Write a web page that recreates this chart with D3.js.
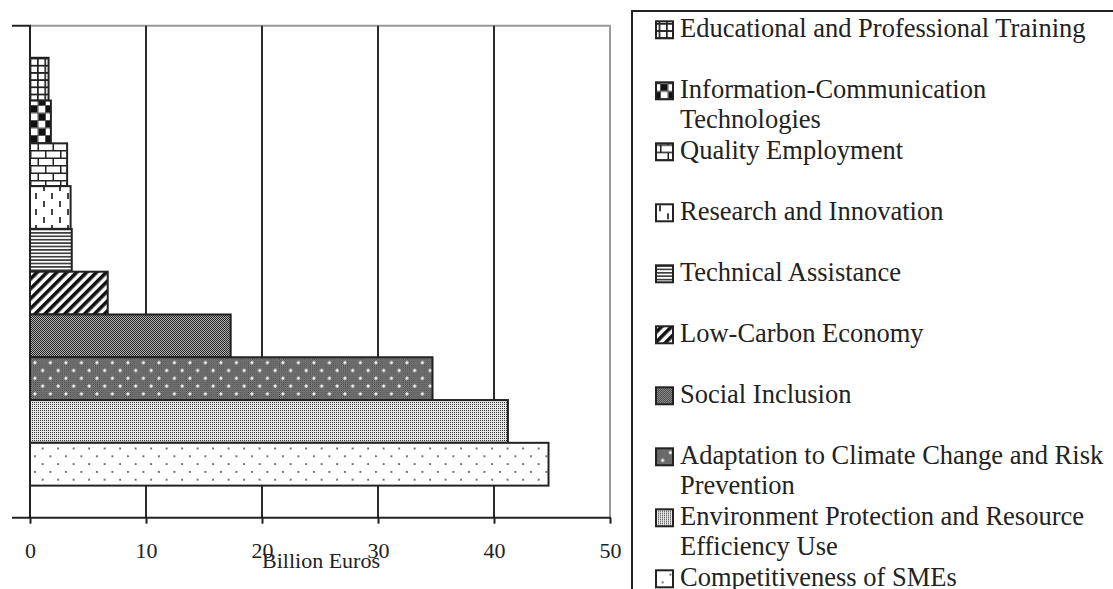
<!DOCTYPE html>
<html>
<head>
<meta charset="utf-8">
<script src="https://cdn.jsdelivr.net/npm/d3@7"></script>
<style>
  body { margin: 0; background: #fff; }
  svg { display: block; font-family: "Liberation Serif", "Times New Roman", serif; }
</style>
</head>
<body>
<div id="chart"></div>
<script>
// data (billion euros), top bar first
const categories = [
    "Educational and Professional Training",
    "Information-Communication Technologies",
    "Quality Employment",
    "Research and Innovation",
    "Technical Assistance",
    "Low-Carbon Economy",
    "Social Inclusion",
    "Adaptation to Climate Change and Risk Prevention",
    "Environment Protection and Resource Efficiency Use",
    "Competitiveness of SMEs"
];
const values = [1.6, 1.8, 3.2, 3.5, 3.6, 6.7, 17.3, 34.7, 41.2, 44.7];
const xTicks = [0, 10, 20, 30, 40, 50];
const xTitle = "Billion Euros";

// fill pattern used for each series, same order as categories
const fillIds = ["p-grid", "p-check", "p-brick", "p-dash", "p-hline", "p-diag", "p-fine", "p-dotdark", "p-light", "p-dots"];

const W = 1113, H = 589;
const plot = { left: 30, right: 610, top: 25.7, bottom: 517.7 };
const ink = "#222";

const svg = d3.select("#chart")
    .append("svg")
    .attr("width", W)
    .attr("height", H);

svg.append("rect").attr("width", W).attr("height", H).attr("fill", "#fff");

// ---- patterns ----
const defs = svg.append("defs");
const pat = (id, w, h) => defs.append("pattern")
    .attr("id", id)
    .attr("patternUnits", "userSpaceOnUse")
    .attr("width", w)
    .attr("height", h);

let p = pat("p-grid", 7.4, 7.2);
p.append("rect").attr("width", 7.4).attr("height", 7.2).attr("fill", "#fff");
p.append("path").attr("d", "M0.8,0V7.2M0,0.8H7.4").attr("stroke", ink).attr("stroke-width", 1.8);

p = pat("p-check", 15, 15);
p.append("rect").attr("width", 15).attr("height", 15).attr("fill", "#fff");
p.append("path").attr("d", "M0.5,0V15M8,0V15M0,0.5H15M0,8H15").attr("stroke", "#555").attr("stroke-width", 1);
p.append("rect").attr("x", 1).attr("y", 1).attr("width", 6.5).attr("height", 6.5).attr("fill", "#111");
p.append("rect").attr("x", 8.5).attr("y", 8.5).attr("width", 6.5).attr("height", 6.5).attr("fill", "#111");

p = pat("p-brick", 15, 15);
p.append("rect").attr("width", 15).attr("height", 15).attr("fill", "#fff");
p.append("path").attr("d", "M0,0.75H15M0,8.25H15M0.75,0V7.5M8.25,7.5V15").attr("stroke", ink).attr("stroke-width", 1.5);

p = pat("p-dash", 16, 16);
p.append("rect").attr("width", 16).attr("height", 16).attr("fill", "#fff");
p.append("path").attr("d", "M4,1V7M12,9V15").attr("stroke", ink).attr("stroke-width", 1.7);

p = pat("p-hline", 4, 3.4);
p.append("rect").attr("width", 4).attr("height", 3.4).attr("fill", "#fff");
p.append("path").attr("d", "M0,1.7H4").attr("stroke", "#333").attr("stroke-width", 1.6);

p = pat("p-diag", 7, 7).attr("patternTransform", "rotate(45)");
p.append("rect").attr("width", 7).attr("height", 7).attr("fill", "#fff");
p.append("rect").attr("width", 3.6).attr("height", 7).attr("fill", "#111");

p = pat("p-fine", 2, 2);
p.append("rect").attr("width", 2).attr("height", 2).attr("fill", "#b4b4b4");
p.append("rect").attr("width", 1).attr("height", 1).attr("fill", "#222");
p.append("rect").attr("x", 1).attr("y", 1).attr("width", 1).attr("height", 1).attr("fill", "#222");

p = pat("p-dotdark", 15.5, 15.6);
p.append("rect").attr("width", 15.5).attr("height", 15.6).attr("fill", "url(#p-fine)");
[[3.9, 3.9], [11.65, 11.7]].forEach(([cx, cy]) => {
    p.append("path")
        .attr("d", `M${cx - 1.6},${cy}H${cx + 1.6}M${cx},${cy - 1.6}V${cy + 1.6}`)
        .attr("stroke", "#fff").attr("stroke-width", 1.3);
});

p = pat("p-light", 2, 2);
p.append("rect").attr("width", 2).attr("height", 2).attr("fill", "#e8e8e8");
p.append("rect").attr("width", 1).attr("height", 1).attr("fill", "#333");

p = pat("p-dots", 15.5, 15.6);
p.append("rect").attr("width", 15.5).attr("height", 15.6).attr("fill", "#fff");
p.append("circle").attr("cx", 3.9).attr("cy", 3.9).attr("r", 0.9).attr("fill", "#333");
p.append("circle").attr("cx", 11.65).attr("cy", 11.7).attr("r", 0.9).attr("fill", "#333");

// ---- scales ----
const x = d3.scaleLinear()
    .domain([0, 50])
    .range([plot.left, plot.right]);

const y = d3.scaleBand()
    .domain(categories)
    .range([plot.top, plot.bottom])
    .paddingInner(0)
    .paddingOuter(0.75);

// plot frame (grey top and right edge)
svg.append("path")
    .attr("d", `M${plot.left},${plot.top}H${plot.right}V${plot.bottom}`)
    .attr("fill", "none")
    .attr("stroke", "#999")
    .attr("stroke-width", 2);

// vertical gridlines
svg.append("g")
    .selectAll("line")
    .data(xTicks.filter(t => t > 0 && t < 50))
    .join("line")
    .attr("x1", d => x(d))
    .attr("x2", d => x(d))
    .attr("y1", plot.top)
    .attr("y2", plot.bottom)
    .attr("stroke", "#2a2a2a")
    .attr("stroke-width", 2);

// bars
svg.append("g")
    .selectAll("rect")
    .data(categories)
    .join("rect")
    .attr("x", x(0))
    .attr("y", d => y(d))
    .attr("width", (d, i) => x(values[i]) - x(0))
    .attr("height", y.bandwidth())
    .attr("fill", (d, i) => `url(#${fillIds[i]})`)
    .attr("stroke", ink)
    .attr("stroke-width", 2);

// y axis with its two outer ticks
svg.append("path")
    .attr("d", `M12,${plot.top}H${plot.left}V${plot.bottom}`)
    .attr("fill", "none")
    .attr("stroke", ink)
    .attr("stroke-width", 2);

// x axis
const xAxis = svg.append("g")
    .attr("transform", `translate(0,${plot.bottom})`)
    .call(d3.axisBottom(x).tickValues(xTicks).tickSize(6).tickSizeOuter(0).tickPadding(18.4));
xAxis.select(".domain").remove();
xAxis.selectAll(".tick line").attr("stroke", ink).attr("stroke-width", 2);
xAxis.selectAll(".tick text")
    .attr("fill", ink)
    .style("font-family", "Liberation Serif")
    .style("font-size", "22px");
svg.append("line")
    .attr("x1", 12).attr("x2", plot.right + 1)
    .attr("y1", plot.bottom).attr("y2", plot.bottom)
    .attr("stroke", ink)
    .attr("stroke-width", 2);

svg.append("text")
    .attr("x", (plot.left + plot.right) / 2 + 1)
    .attr("y", 567.7)
    .attr("text-anchor", "middle")
    .attr("fill", ink)
    .style("font-size", "22px")
    .text(xTitle);

// ---- legend ----
const legend = svg.append("g");
legend.append("rect")
    .attr("x", 632).attr("y", 11)
    .attr("width", 600).attr("height", 700)
    .attr("fill", "#fff")
    .attr("stroke", ink)
    .attr("stroke-width", 2);

const wrapWidth = 440;
const measure = legend.append("text").style("font-size", "26.5px");
const wrap = label => {
    const lines = [];
    let line = "";
    label.split(" ").forEach(word => {
        const test = line ? line + " " + word : word;
        measure.text(test);
        if (line && measure.node().getComputedTextLength() > wrapWidth) {
            lines.push(line);
            line = word;
        } else {
            line = test;
        }
    });
    lines.push(line);
    return lines;
};

const entries = legend.selectAll("g.entry")
    .data(categories)
    .join("g")
    .attr("class", "entry")
    .attr("transform", (d, i) => `translate(0,${37.3 + i * 61})`);

const lineLists = categories.map(wrap);
measure.remove();

entries.append("rect")
    .attr("x", 656)
    .attr("y", -16)
    .attr("width", 17)
    .attr("height", 17)
    .attr("fill", (d, i) => `url(#${fillIds[i]})`)
    .attr("stroke", ink)
    .attr("stroke-width", 2);

entries.append("text")
    .attr("fill", ink)
    .style("font-size", "26.5px")
    .selectAll("tspan")
    .data((d, i) => lineLists[i])
    .join("tspan")
    .attr("x", 680)
    .attr("y", (d, j) => j * 30)
    .text(d => d);
</script>
</body>
</html>
